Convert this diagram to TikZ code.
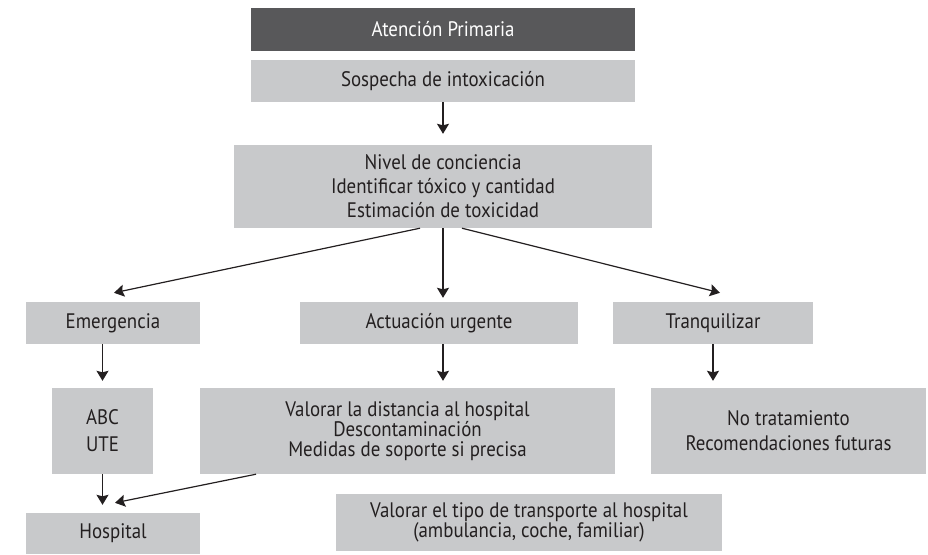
\documentclass[tikz,border=0pt]{standalone}
\usepackage{fontspec}
\setmainfont[FakeStretch=0.9]{PT Sans}
\usepackage{tikz}
\usetikzlibrary{arrows.meta,positioning,calc}
\definecolor{boxgrey}{RGB}{200,201,203}
\definecolor{headgrey}{RGB}{88,88,90}
\definecolor{inkgrey}{RGB}{35,31,32}
\tikzset{
  flowbox/.style={fill=boxgrey,align=center,inner sep=0pt,text=inkgrey,
    font=\fontsize{21}{24}\selectfont},
  headbox/.style={flowbox,fill=headgrey,text=white},
  tightbox/.style={flowbox,font=\fontsize{21}{20}\selectfont},
  flowarrow/.style={-{Stealth[length=10pt,width=12pt,inset=1.5pt]},line width=1.2pt,draw=inkgrey}
}

\begin{document}
\begin{tikzpicture}[x=1pt,y=-1pt]
  \useasboundingbox (0,0) rectangle (928,554);
  \node[headbox,minimum width=384pt,minimum height=43pt] (primaria) at (443,29.5) {Atención Primaria};
  \node[flowbox,minimum width=384pt,minimum height=42pt] (sospecha) at (443,81) {Sospecha de intoxicación};
  \node[flowbox,minimum width=418pt,minimum height=83pt] (nivel) at (443,186.5)
    {Nivel de conciencia\\Identificar tóxico y cantidad\\Estimación de toxicidad};
  \node[flowbox,minimum width=174pt,minimum height=42pt] (emerg) at (113,323) {Emergencia};
  \node[flowbox,minimum width=278pt,minimum height=42pt] (actua) at (439,323) {Actuación urgente};
  \node[flowbox,minimum width=200pt,minimum height=42pt] (tranq) at (713,323) {Tranquilizar};
  \node[flowbox,minimum width=101pt,minimum height=86pt,font=\fontsize{21}{27}\selectfont]
    (abc) at (102.5,431) {ABC\\UTE};
  \node[tightbox,minimum width=415pt,minimum height=86pt] (valdist) at (407.5,431)
    {Valorar la distancia al hospital\\Descontaminación\\Medidas de soporte si precisa};
  \node[flowbox,minimum width=275pt,minimum height=86pt,font=\fontsize{21}{25}\selectfont]
    (notrat) at (788.5,431) {No tratamiento\\Recomendaciones futuras};
  \node[flowbox,minimum width=174pt,minimum height=41pt] (hospital) at (113,533.5) {Hospital};
  \node[tightbox,minimum width=386pt,minimum height=57pt] (transp) at (529,522.5)
    {Valorar el tipo de transporte al hospital\\(ambulancia, coche, familiar)};

  \draw[flowarrow,shorten >=11pt] (sospecha.south) -- (sospecha.south |- nivel.north);
  \draw[flowarrow] ([xshift=-23pt]nivel.south) -- ([xshift=1pt,yshift=9pt]emerg.north);
  \draw[flowarrow,shorten >=4pt] (nivel.south) -- (nivel.south |- actua.north);
  \draw[flowarrow] ([xshift=19pt]nivel.south) -- ([xshift=7pt,yshift=9pt]tranq.north);
  \draw[flowarrow,shorten >=7pt] (abc.north |- emerg.south) -- (abc.north);
  \draw[flowarrow,shorten >=7pt] ([xshift=4pt]actua.south) -- ([xshift=4pt]actua.south |- valdist.north);
  \draw[flowarrow,shorten >=7pt] (tranq.south) -- (tranq.south |- notrat.north);
  \draw[flowarrow,shorten >=8pt] (abc.south) -- (abc.south |- hospital.north);
  \draw[flowarrow] ([xshift=-151.5pt]valdist.south) -- ([xshift=2pt,yshift=10pt]hospital.north);
\end{tikzpicture}
\end{document}
